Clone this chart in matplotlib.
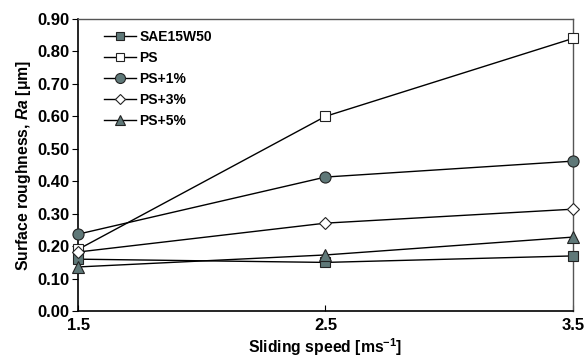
import matplotlib
matplotlib.use("Agg")
import matplotlib.pyplot as plt

plt.rcParams['font.family'] = ['Liberation Sans', 'DejaVu Sans']
plt.rcParams['font.weight'] = 'bold'
plt.rcParams['mathtext.fontset'] = 'custom'
plt.rcParams['mathtext.rm'] = 'Liberation Sans:bold'
plt.rcParams['mathtext.it'] = 'Liberation Sans:italic:bold'
plt.rcParams['mathtext.bf'] = 'Liberation Sans:bold'

speed = [1.5, 2.5, 3.5]
sae15w50 = [0.16, 0.15, 0.17]
ps = [0.19, 0.60, 0.84]
ps1 = [0.237, 0.413, 0.462]
ps3 = [0.182, 0.271, 0.314]
ps5 = [0.136, 0.173, 0.228]

labels = ['SAE15W50', 'PS', 'PS+1%', 'PS+3%', 'PS+5%']
yticks = [0.0, 0.1, 0.2, 0.3, 0.4, 0.5, 0.6, 0.7, 0.8, 0.9]
xticks = [1.5, 2.5, 3.5]

fill = '#5f7878'
fig = plt.figure(figsize=(5.87, 3.58), dpi=100)
ax = fig.add_axes([0.133, 0.131, 0.843, 0.816])

series = [
    (sae15w50, 's', fill, 7),
    (ps, 's', 'white', 7),
    (ps1, 'o', fill, 8),
    (ps3, 'D', 'white', 6),
    (ps5, '^', fill, 8),
]
for (vals, m, fc, ms), lab in zip(series, labels):
    ax.plot(speed, vals, color='black', lw=1.0, marker=m, markersize=ms,
            markerfacecolor=fc, markeredgecolor='#222222', markeredgewidth=0.8,
            label=lab, clip_on=False, zorder=3)

ax.set_xlim(1.5, 3.5)
ax.set_ylim(0, 0.9)
ax.set_xticks(xticks)
ax.set_xticklabels([f'{v:.1f}' for v in xticks])
ax.set_yticks(yticks)
ax.set_yticklabels([f'{v:.2f}' for v in yticks])
ax.tick_params(axis='x', direction='in', length=4, labelsize=12, pad=5)
ax.tick_params(axis='y', direction='out', length=4, labelsize=12, pad=2)
for t in ax.get_xticklabels() + ax.get_yticklabels():
    t.set_fontweight('bold')

for s in ['top', 'right']:
    ax.spines[s].set_color('#555555')
    ax.spines[s].set_linewidth(1.0)
for s in ['left', 'bottom']:
    ax.spines[s].set_color('black')
    ax.spines[s].set_linewidth(1.2)

ax.set_xlabel('Sliding speed [ms$^{-1}$]', fontsize=11.3, fontweight='bold', labelpad=2)
ax.set_ylabel('Surface roughness, $\\mathit{Ra}$ [μm]', fontsize=11.3, fontweight='bold', labelpad=3)

leg = ax.legend(loc='upper left', bbox_to_anchor=(0.035, 0.99), frameon=False,
                prop={'weight': 'bold', 'size': 10}, handlelength=2.3,
                handletextpad=0.25, labelspacing=0.5, borderaxespad=0.2,
                markerscale=0.9)

fig.savefig('out.png', dpi=100)
